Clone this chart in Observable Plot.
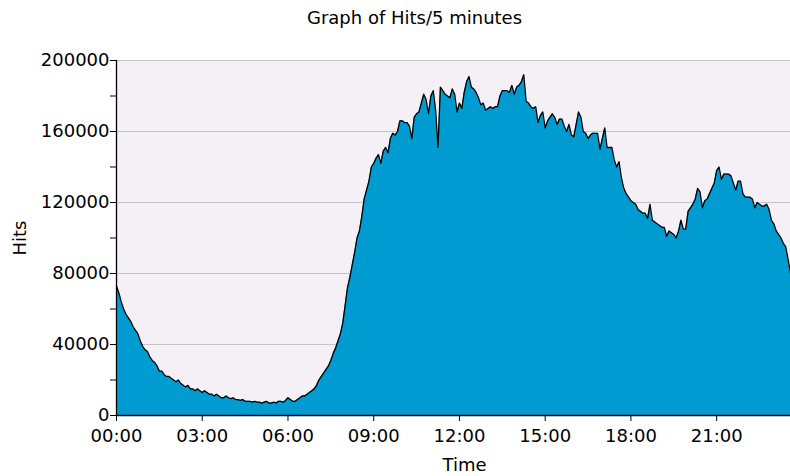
<!DOCTYPE html>
<html>
<head>
<meta charset="utf-8">
<script src="https://cdn.jsdelivr.net/npm/d3@7"></script>
<script src="https://cdn.jsdelivr.net/npm/@observablehq/plot@0.6"></script>
<style>
  html, body { margin: 0; padding: 0; background: #ffffff; }
</style>
</head>
<body>
<div id="chart"></div>
<script>
// Hits per 5-minute interval, in thousands
const hits00to06 = [
  73,69,64,60,57,55,53,50,48,46,42,39,
  37,36,33,31,30,28,25,25,23,22,22,21,
  20,19,20,18,17,16,17,15,15,14,15,14,
  13,14,13,12,12,11,12,11,10,10,11,10,
  9.5,10,9,9,8.5,9,8,8,8,7.5,8,7.5,
  7.5,7,7.5,8,7,7,7.5,7,8,8,7.5,8.5
];
const hits06to12 = [
  10,9,8,8,9,10,11,11,12,13,14,15,
  17,20,22,24,26,28,31,35,38,42,46,52,
  62,72,78,85,92,100,104,112,122,127,132,140,
  142,145,147,142,149,151,148,156,159,158,160,166,
  166,165,165,163,156,168,170,171,176,181,178,170,
  180,183,172,151,185,183,181,180,179,184,181,171
];
const hits12to18 = [
  176,173,182,188,191,185,184,182,179,175,176,172,
  173,174,173,174,174,180,183,183,183,182,186,181,
  185,186,188,192,177,176,174,173,174,165,169,171,
  162,166,168,170,168,164,167,167,163,160,164,158,
  157,164,171,168,160,159,156,158,159,159,159,150,
  156,162,151,151,151,144,140,143,134,128,125,123
];
const hits18to24 = [
  121,120,119,116,115,114,114,111,119,110,109,108,
  107,106,106,101,104,103,102,100,104,110,105,105,
  115,117,119,122,128,126,117,121,122,125,128,131,
  138,140,133,136,136,136,135,131,127,132,132,125,
  123,123,123,122,117,120,119,118,118,119,116,110,
  108,104,102,100,97,95,88,80
];

const timeTicks = [0, 180, 360, 540, 720, 900, 1080, 1260]; // minutes
const timeTickLabels = ["00:00","03:00","06:00","09:00","12:00","15:00","18:00","21:00"];
const hitTicks = [0,20000,40000,60000,80000,100000,120000,140000,160000,180000,200000];
const hitLabels = [0,40000,80000,120000,160000,200000];

const titleText = "Graph of Hits/5 minutes";
const xTitle = "Time";
const yTitle = "Hits";

const hitsK = [...hits00to06, ...hits06to12, ...hits12to18, ...hits18to24];
const data = hitsK.map((v, i) => ({minute: i * 5, hits: v * 1000}));
const lastMinute = (hitsK.length - 1) * 5;

const chart = Plot.plot({
  width: 790,
  height: 476,
  marginLeft: 116,
  marginRight: 0,
  marginTop: 60,
  marginBottom: 61,
  style: {fontFamily: "DejaVu Sans", fontSize: "18px", color: "#000", background: "#ffffff", overflow: "visible"},
  x: {
    domain: [0, lastMinute],
    ticks: timeTicks,
    tickFormat: m => timeTickLabels[timeTicks.indexOf(m)],
    tickSize: 6,
    tickPadding: 8,
    label: null
  },
  y: {
    domain: [0, 200000],
    ticks: hitTicks,
    tickFormat: v => (v % 40000 === 0 ? String(v) : ""),
    tickSize: 6,
    tickPadding: 1,
    label: null
  },
  marks: [
    Plot.frame({fill: "#f5f0f5", stroke: null}),
    Plot.ruleY(hitLabels.filter(v => v > 0), {stroke: "#c6c2c6", strokeWidth: 1.2}),
    Plot.areaY(data, {x: "minute", y: "hits", fill: "#009bd0"}),
    Plot.lineY(data, {x: "minute", y: "hits", stroke: "#000", strokeWidth: 1.3}),
    Plot.ruleX([0], {y1: 0, y2: 200000, stroke: "#000", strokeWidth: 1.3}),
    Plot.ruleY([0], {stroke: "#000", strokeWidth: 1.3}),
    Plot.text([titleText], {text: d => d, frameAnchor: "top-left", dx: 298, dy: -42, textAnchor: "middle", lineAnchor: "middle", fontSize: 18, fill: "#000"}),
    Plot.text([xTitle], {text: d => d, frameAnchor: "bottom-left", dx: 348, dy: 50, textAnchor: "middle", lineAnchor: "middle", fontSize: 18, fill: "#000"}),
    Plot.text([yTitle], {text: d => d, frameAnchor: "left", dx: -96, rotate: -90, textAnchor: "middle", lineAnchor: "middle", fontSize: 18, fill: "#000"})
  ]
});
document.getElementById("chart").appendChild(chart);
</script>
</body>
</html>
